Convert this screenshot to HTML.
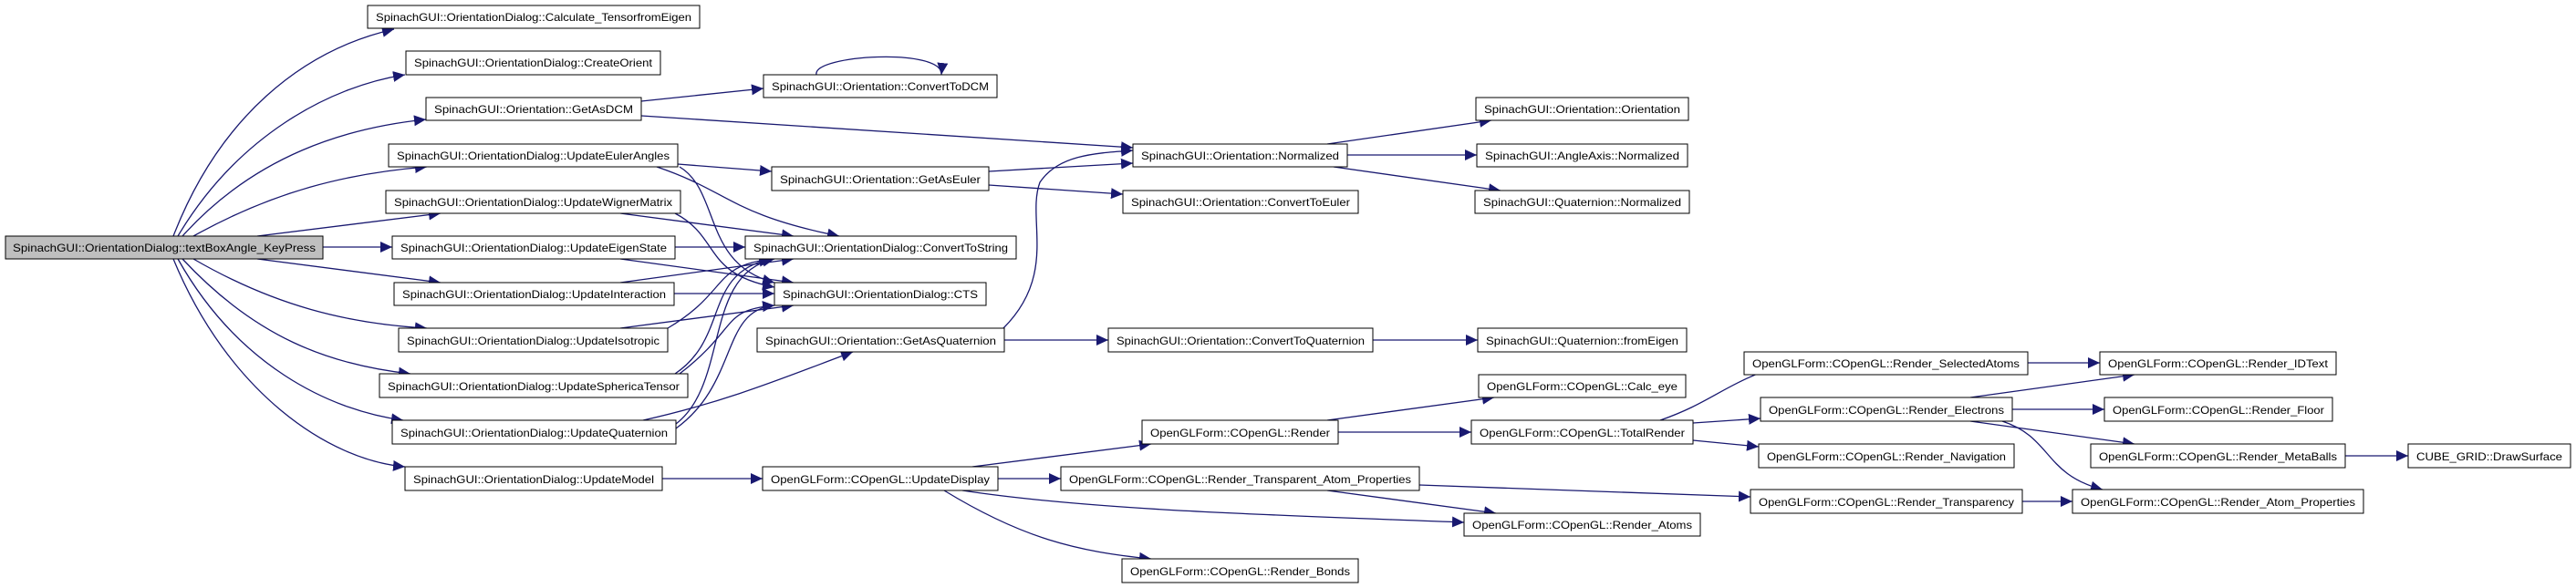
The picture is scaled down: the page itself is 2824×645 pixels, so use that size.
<!DOCTYPE html>
<html><head><meta charset="utf-8"><style>html,body{margin:0;padding:0;background:#fff}svg{display:block}</style></head>
<body>
<svg width="2824" height="645" viewBox="0 0 2824 645" xmlns="http://www.w3.org/2000/svg">
<defs>
<marker id="a" markerUnits="userSpaceOnUse" markerWidth="14" markerHeight="12" refX="13" refY="6" orient="auto">
<path d="M0,0 L13,6 L0,12 z" fill="#191970"/>
</marker>
</defs>
<g fill="none" stroke="#191970" stroke-width="1.3" marker-end="url(#a)">
<path d="M190,259 C240,130 330,55 432,32"/>
<path d="M195,259 C260,150 360,95 444,82"/>
<path d="M200,259 C280,170 380,140 467,131"/>
<path d="M212,259 C300,210 380,190 468,183"/>
<path d="M282,259 L483,234"/>
<path d="M354,271 L430,271"/>
<path d="M282,284 L483,310"/>
<path d="M212,284 C300,335 380,355 468,360"/>
<path d="M200,284 C280,370 360,400 450,410"/>
<path d="M195,284 C260,400 360,450 442,461"/>
<path d="M190,284 C250,430 360,505 444,512"/>
<path d="M703,111 L837,97"/>
<path d="M895,82 C890,60 1035,52 1032,82"/>
<path d="M703,127 L1242,162"/>
<path d="M743,180 L846,188"/>
<path d="M720,183 C800,210 800,235 920,259"/>
<path d="M745,183 C790,210 770,290 849,310"/>
<path d="M1084,188 L1242,179"/>
<path d="M1084,203 L1231,213"/>
<path d="M680,234 L870,259"/>
<path d="M740,234 C790,260 770,300 849,315"/>
<path d="M740,271 L817,271"/>
<path d="M680,284 L870,310"/>
<path d="M680,310 L870,284"/>
<path d="M739,322 L849,322"/>
<path d="M732,360 C800,320 780,290 849,284"/>
<path d="M680,360 L870,335"/>
<path d="M740,410 C800,370 770,300 845,284"/>
<path d="M745,410 C810,360 790,340 849,335"/>
<path d="M741,465 C800,420 770,300 849,284"/>
<path d="M741,470 C810,420 790,340 849,335"/>
<path d="M705,461 C800,440 870,410 935,386"/>
<path d="M1100,360 C1160,300 1125,240 1140,200 C1160,170 1200,168 1242,165"/>
<path d="M1101,373 L1215,373"/>
<path d="M1505,373 L1620,373"/>
<path d="M1455,158 L1635,132"/>
<path d="M1477,170 L1619,170"/>
<path d="M1462,183 L1645,209"/>
<path d="M726,525 L836,525"/>
<path d="M1066,512 L1262,487"/>
<path d="M1094,525 L1163,525"/>
<path d="M1055,538 C1200,560 1400,565 1605,573"/>
<path d="M1035,538 C1120,590 1180,605 1262,613"/>
<path d="M1455,461 L1638,436"/>
<path d="M1467,474 L1613,474"/>
<path d="M1455,538 L1640,563"/>
<path d="M1556,532 L1919,545"/>
<path d="M1820,461 C1880,440 1890,420 1960,398"/>
<path d="M1856,464 L1930,459"/>
<path d="M1856,483 L1928,490"/>
<path d="M2223,398 L2302,398"/>
<path d="M2160,436 L2340,411"/>
<path d="M2206,449 L2307,449"/>
<path d="M2160,462 L2340,487"/>
<path d="M2195,462 C2250,480 2240,520 2305,537"/>
<path d="M2571,500 L2640,500"/>
<path d="M2217,550 L2272,550"/>
</g>
<g font-family="'Liberation Sans', sans-serif" font-size="12" fill="#000" stroke="none">
<g id="nodes">
</g>
</g>
<g stroke="#000" stroke-width="1" font-family="'Liberation Sans', sans-serif" font-size="12">
<g fill="#fff">
<rect x="6" y="259" width="348" height="25" fill="#bfbfbf"/>
<rect x="403" y="6" width="364" height="25"/>
<rect x="445" y="56" width="279" height="26"/>
<rect x="467" y="107" width="236" height="25"/>
<rect x="426" y="158" width="317" height="25"/>
<rect x="423" y="209" width="323" height="25"/>
<rect x="430" y="259" width="310" height="25"/>
<rect x="432" y="310" width="307" height="25"/>
<rect x="437" y="360" width="295" height="26"/>
<rect x="416" y="410" width="338" height="26"/>
<rect x="430" y="461" width="311" height="26"/>
<rect x="444" y="512" width="282" height="26"/>
<rect x="837" y="82" width="256" height="25"/>
<rect x="846" y="183" width="238" height="26"/>
<rect x="817" y="259" width="297" height="25"/>
<rect x="849" y="310" width="232" height="25"/>
<rect x="830" y="360" width="271" height="26"/>
<rect x="836" y="512" width="258" height="26"/>
<rect x="1242" y="158" width="235" height="25"/>
<rect x="1618" y="107" width="233" height="25"/>
<rect x="1619" y="158" width="231" height="25"/>
<rect x="1617" y="209" width="235" height="25"/>
<rect x="1231" y="209" width="258" height="25"/>
<rect x="1215" y="360" width="290" height="26"/>
<rect x="1620" y="360" width="229" height="26"/>
<rect x="1621" y="411" width="227" height="25"/>
<rect x="1252" y="461" width="215" height="26"/>
<rect x="1613" y="461" width="243" height="26"/>
<rect x="1163" y="512" width="393" height="26"/>
<rect x="1605" y="563" width="259" height="25"/>
<rect x="1230" y="613" width="259" height="26"/>
<rect x="1912" y="386" width="311" height="25"/>
<rect x="2302" y="386" width="259" height="25"/>
<rect x="1930" y="436" width="276" height="26"/>
<rect x="2307" y="436" width="250" height="26"/>
<rect x="1928" y="487" width="280" height="26"/>
<rect x="2292" y="487" width="279" height="26"/>
<rect x="2640" y="487" width="178" height="26"/>
<rect x="1919" y="537" width="298" height="26"/>
<rect x="2272" y="537" width="319" height="26"/>
</g>
<g fill="#000" stroke="none" lengthAdjust="spacingAndGlyphs">
<text x="14" y="276" textLength="332" lengthAdjust="spacingAndGlyphs">SpinachGUI::OrientationDialog::textBoxAngle_KeyPress</text>
<text x="412" y="23" textLength="346" lengthAdjust="spacingAndGlyphs">SpinachGUI::OrientationDialog::Calculate_TensorfromEigen</text>
<text x="454" y="73" textLength="261" lengthAdjust="spacingAndGlyphs">SpinachGUI::OrientationDialog::CreateOrient</text>
<text x="476" y="124" textLength="218" lengthAdjust="spacingAndGlyphs">SpinachGUI::Orientation::GetAsDCM</text>
<text x="435" y="175" textLength="299" lengthAdjust="spacingAndGlyphs">SpinachGUI::OrientationDialog::UpdateEulerAngles</text>
<text x="432" y="226" textLength="305" lengthAdjust="spacingAndGlyphs">SpinachGUI::OrientationDialog::UpdateWignerMatrix</text>
<text x="439" y="276" textLength="292" lengthAdjust="spacingAndGlyphs">SpinachGUI::OrientationDialog::UpdateEigenState</text>
<text x="441" y="327" textLength="289" lengthAdjust="spacingAndGlyphs">SpinachGUI::OrientationDialog::UpdateInteraction</text>
<text x="446" y="378" textLength="277" lengthAdjust="spacingAndGlyphs">SpinachGUI::OrientationDialog::UpdateIsotropic</text>
<text x="425" y="428" textLength="320" lengthAdjust="spacingAndGlyphs">SpinachGUI::OrientationDialog::UpdateSphericaTensor</text>
<text x="439" y="479" textLength="293" lengthAdjust="spacingAndGlyphs">SpinachGUI::OrientationDialog::UpdateQuaternion</text>
<text x="453" y="530" textLength="264" lengthAdjust="spacingAndGlyphs">SpinachGUI::OrientationDialog::UpdateModel</text>
<text x="846" y="99" textLength="238" lengthAdjust="spacingAndGlyphs">SpinachGUI::Orientation::ConvertToDCM</text>
<text x="855" y="201" textLength="220" lengthAdjust="spacingAndGlyphs">SpinachGUI::Orientation::GetAsEuler</text>
<text x="826" y="276" textLength="279" lengthAdjust="spacingAndGlyphs">SpinachGUI::OrientationDialog::ConvertToString</text>
<text x="858" y="327" textLength="214" lengthAdjust="spacingAndGlyphs">SpinachGUI::OrientationDialog::CTS</text>
<text x="839" y="378" textLength="253" lengthAdjust="spacingAndGlyphs">SpinachGUI::Orientation::GetAsQuaternion</text>
<text x="845" y="530" textLength="240" lengthAdjust="spacingAndGlyphs">OpenGLForm::COpenGL::UpdateDisplay</text>
<text x="1251" y="175" textLength="217" lengthAdjust="spacingAndGlyphs">SpinachGUI::Orientation::Normalized</text>
<text x="1627" y="124" textLength="215" lengthAdjust="spacingAndGlyphs">SpinachGUI::Orientation::Orientation</text>
<text x="1628" y="175" textLength="213" lengthAdjust="spacingAndGlyphs">SpinachGUI::AngleAxis::Normalized</text>
<text x="1626" y="226" textLength="217" lengthAdjust="spacingAndGlyphs">SpinachGUI::Quaternion::Normalized</text>
<text x="1240" y="226" textLength="240" lengthAdjust="spacingAndGlyphs">SpinachGUI::Orientation::ConvertToEuler</text>
<text x="1224" y="378" textLength="272" lengthAdjust="spacingAndGlyphs">SpinachGUI::Orientation::ConvertToQuaternion</text>
<text x="1629" y="378" textLength="211" lengthAdjust="spacingAndGlyphs">SpinachGUI::Quaternion::fromEigen</text>
<text x="1630" y="428" textLength="209" lengthAdjust="spacingAndGlyphs">OpenGLForm::COpenGL::Calc_eye</text>
<text x="1261" y="479" textLength="197" lengthAdjust="spacingAndGlyphs">OpenGLForm::COpenGL::Render</text>
<text x="1622" y="479" textLength="225" lengthAdjust="spacingAndGlyphs">OpenGLForm::COpenGL::TotalRender</text>
<text x="1172" y="530" textLength="375" lengthAdjust="spacingAndGlyphs">OpenGLForm::COpenGL::Render_Transparent_Atom_Properties</text>
<text x="1614" y="580" textLength="241" lengthAdjust="spacingAndGlyphs">OpenGLForm::COpenGL::Render_Atoms</text>
<text x="1239" y="631" textLength="241" lengthAdjust="spacingAndGlyphs">OpenGLForm::COpenGL::Render_Bonds</text>
<text x="1921" y="403" textLength="293" lengthAdjust="spacingAndGlyphs">OpenGLForm::COpenGL::Render_SelectedAtoms</text>
<text x="2311" y="403" textLength="241" lengthAdjust="spacingAndGlyphs">OpenGLForm::COpenGL::Render_IDText</text>
<text x="1939" y="454" textLength="258" lengthAdjust="spacingAndGlyphs">OpenGLForm::COpenGL::Render_Electrons</text>
<text x="2316" y="454" textLength="232" lengthAdjust="spacingAndGlyphs">OpenGLForm::COpenGL::Render_Floor</text>
<text x="1937" y="505" textLength="262" lengthAdjust="spacingAndGlyphs">OpenGLForm::COpenGL::Render_Navigation</text>
<text x="2301" y="505" textLength="261" lengthAdjust="spacingAndGlyphs">OpenGLForm::COpenGL::Render_MetaBalls</text>
<text x="2649" y="505" textLength="160" lengthAdjust="spacingAndGlyphs">CUBE_GRID::DrawSurface</text>
<text x="1928" y="555" textLength="280" lengthAdjust="spacingAndGlyphs">OpenGLForm::COpenGL::Render_Transparency</text>
<text x="2281" y="555" textLength="301" lengthAdjust="spacingAndGlyphs">OpenGLForm::COpenGL::Render_Atom_Properties</text>
</g>
</g>
</svg>
</body></html>
